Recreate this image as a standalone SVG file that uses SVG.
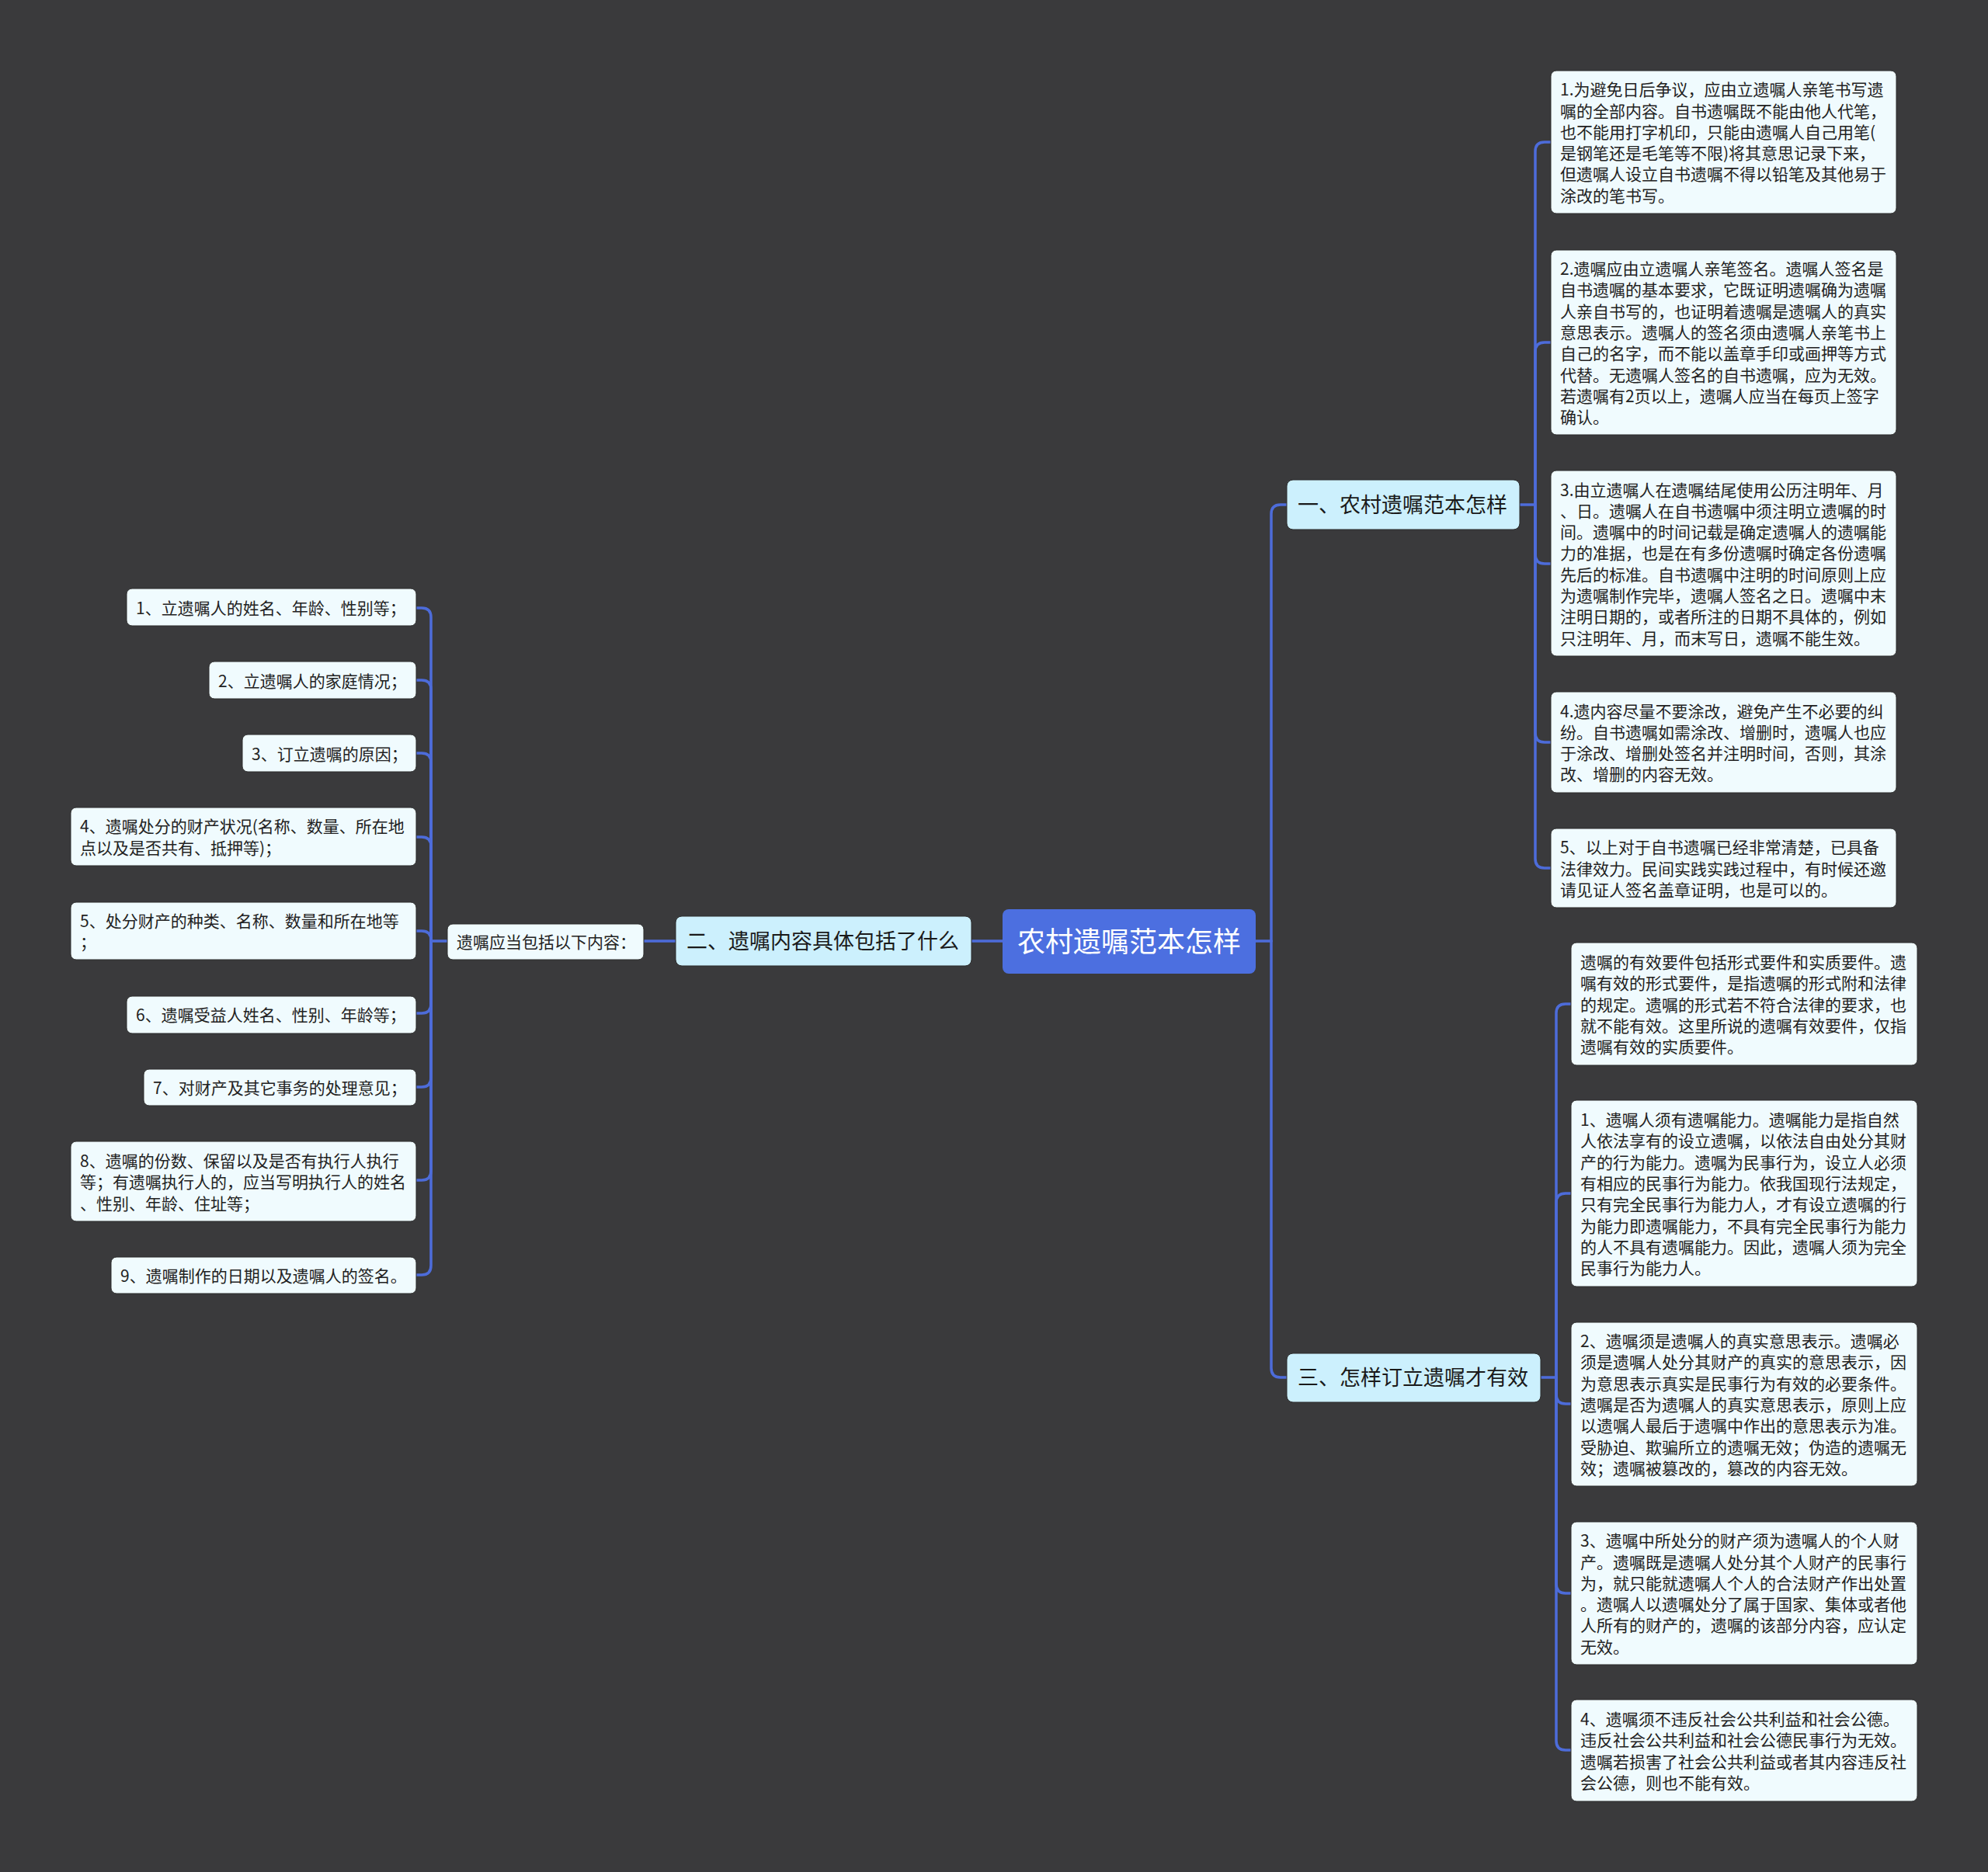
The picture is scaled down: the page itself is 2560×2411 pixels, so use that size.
<svg xmlns="http://www.w3.org/2000/svg" width="2560" height="2411" viewBox="0 0 2560 2411">
<style>
.bg{fill:#3a3a3c}
.lk{fill:none;stroke:#4d6cda;stroke-width:3.5;stroke-linecap:round}
.root rect{fill:#4c6fe0}
.root text{fill:#ffffff;font-size:36px}
.l1 rect{fill:#ccf0fd;stroke:#2a2a2a;stroke-width:1}
.l1 text{fill:#1a1a1a;font-size:27px}
.lf rect{fill:#f0fbfe;stroke:#2a2a2a;stroke-width:1}
.lf text{fill:#222222;font-size:21px}
text{font-family:"Noto Sans CJK SC","Noto Sans",sans-serif}
</style>
<rect class="bg" x="0" y="0" width="2560" height="2411"/>

<g id="connectors">
  <path class="lk" d="M1617 1212 H1637"/>
  <path class="lk" d="M1637 1212 V662 Q1637 650 1649 650 H1657"/>
  <path class="lk" d="M1637 1212 V1762 Q1637 1774 1649 1774 H1657"/>
  <path class="lk" d="M1291 1212 H1251"/>
  <path class="lk" d="M870 1212 H829"/>
  <path class="lk" d="M576 1212 H555"/>
  <path class="lk" d="M555 1212 V795 Q555 783 543 783 H536"/>
  <path class="lk" d="M555 1212 V888 Q555 876 543 876 H536"/>
  <path class="lk" d="M555 1212 V982 Q555 970 543 970 H536"/>
  <path class="lk" d="M555 1212 V1090 Q555 1078 543 1078 H536"/>
  <path class="lk" d="M555 1212 V1211 Q555 1199 543 1199 H536"/>
  <path class="lk" d="M555 1212 V1293 Q555 1305 543 1305 H536"/>
  <path class="lk" d="M555 1212 V1388 Q555 1400 543 1400 H536"/>
  <path class="lk" d="M555 1212 V1508 Q555 1520 543 1520 H536"/>
  <path class="lk" d="M555 1212 V1630 Q555 1642 543 1642 H536"/>
  <path class="lk" d="M1957 650 H1977"/>
  <path class="lk" d="M1977 650 V195 Q1977 183 1989 183 H1997"/>
  <path class="lk" d="M1977 650 V453 Q1977 441 1989 441 H1997"/>
  <path class="lk" d="M1977 650 V714 Q1977 726 1989 726 H1997"/>
  <path class="lk" d="M1977 650 V944 Q1977 956 1989 956 H1997"/>
  <path class="lk" d="M1977 650 V1106 Q1977 1118 1989 1118 H1997"/>
  <path class="lk" d="M1984 1774 H2004"/>
  <path class="lk" d="M2004 1774 V1305 Q2004 1293 2016 1293 H2023"/>
  <path class="lk" d="M2004 1774 V1549 Q2004 1537 2016 1537 H2023"/>
  <path class="lk" d="M2004 1774 V1796 Q2004 1808 2016 1808 H2023"/>
  <path class="lk" d="M2004 1774 V2040 Q2004 2052 2016 2052 H2023"/>
  <path class="lk" d="M2004 1774 V2242 Q2004 2254 2016 2254 H2023"/>
</g>

<g id="root" class="root">
  <rect x="1291" y="1171" width="326" height="83" rx="8"/>
  <text x="1454" y="1225.5" text-anchor="middle">农村遗嘱范本怎样</text>
</g>

<g id="n1" class="l1">
  <rect x="1657" y="618" width="300" height="64" rx="8"/>
  <text x="1671" y="660">一、农村遗嘱范本怎样</text>
</g>
<g id="n2" class="l1">
  <rect x="870" y="1180" width="381" height="64" rx="8"/>
  <text x="884" y="1222">二、遗嘱内容具体包括了什么</text>
</g>
<g id="n3" class="l1">
  <rect x="1657" y="1743" width="327" height="63" rx="8"/>
  <text x="1671" y="1784">三、怎样订立遗嘱才有效</text>
</g>

<g id="n2a" class="lf">
  <rect x="576" y="1190" width="253" height="46" rx="7"/>
  <text x="588" y="1220.5">遗嘱应当包括以下内容：</text>
</g>

<g id="l1" class="lf">
  <rect x="163" y="758" width="373" height="48" rx="7"/>
  <text x="175" y="790.5">1、立遗嘱人的姓名、年龄、性别等；</text>
</g>
<g id="l2" class="lf">
  <rect x="269" y="852" width="267" height="48" rx="7"/>
  <text x="281" y="884.5">2、立遗嘱人的家庭情况；</text>
</g>
<g id="l3" class="lf">
  <rect x="312" y="946" width="224" height="48" rx="7"/>
  <text x="324" y="978.5">3、订立遗嘱的原因；</text>
</g>
<g id="l4" class="lf">
  <rect x="91" y="1040" width="445" height="75" rx="7"/>
  <text x="103" y="1072.25"><tspan x="103">4、遗嘱处分的财产状况(名称、数量、所在地</tspan><tspan x="103" dy="27.5">点以及是否共有、抵押等)；</tspan></text>
</g>
<g id="l5" class="lf">
  <rect x="91" y="1162" width="445" height="74" rx="7"/>
  <text x="103" y="1193.75"><tspan x="103">5、处分财产的种类、名称、数量和所在地等</tspan><tspan x="103" dy="27.5">；</tspan></text>
</g>
<g id="l6" class="lf">
  <rect x="163" y="1283" width="373" height="48" rx="7"/>
  <text x="175" y="1315">6、遗嘱受益人姓名、性别、年龄等；</text>
</g>
<g id="l7" class="lf">
  <rect x="185" y="1377" width="351" height="47" rx="7"/>
  <text x="197" y="1408.5">7、对财产及其它事务的处理意见；</text>
</g>
<g id="l8" class="lf">
  <rect x="91" y="1470" width="445" height="103" rx="7"/>
  <text x="103" y="1502.5"><tspan x="103">8、遗嘱的份数、保留以及是否有执行人执行</tspan><tspan x="103" dy="27.5">等；有遗嘱执行人的，应当写明执行人的姓名</tspan><tspan x="103" dy="27.5">、性别、年龄、住址等；</tspan></text>
</g>
<g id="l9" class="lf">
  <rect x="143" y="1619" width="393" height="47" rx="7"/>
  <text x="155" y="1650.5">9、遗嘱制作的日期以及遗嘱人的签名。</text>
</g>

<g id="rA" class="lf">
  <rect x="1997" y="91" width="445" height="184" rx="7"/>
  <text x="2009" y="123.25"><tspan x="2009">1.为避免日后争议，应由立遗嘱人亲笔书写遗</tspan><tspan x="2009" dy="27.3">嘱的全部内容。自书遗嘱既不能由他人代笔，</tspan><tspan x="2009" dy="27.3">也不能用打字机印，只能由遗嘱人自己用笔(</tspan><tspan x="2009" dy="27.3">是钢笔还是毛笔等不限)将其意思记录下来，</tspan><tspan x="2009" dy="27.3">但遗嘱人设立自书遗嘱不得以铅笔及其他易于</tspan><tspan x="2009" dy="27.3">涂改的笔书写。</tspan></text>
</g>
<g id="rB" class="lf">
  <rect x="1997" y="322" width="445" height="238" rx="7"/>
  <text x="2009" y="354"><tspan x="2009">2.遗嘱应由立遗嘱人亲笔签名。遗嘱人签名是</tspan><tspan x="2009" dy="27.3">自书遗嘱的基本要求，它既证明遗嘱确为遗嘱</tspan><tspan x="2009" dy="27.3">人亲自书写的，也证明着遗嘱是遗嘱人的真实</tspan><tspan x="2009" dy="27.3">意思表示。遗嘱人的签名须由遗嘱人亲笔书上</tspan><tspan x="2009" dy="27.3">自己的名字，而不能以盖章手印或画押等方式</tspan><tspan x="2009" dy="27.3">代替。无遗嘱人签名的自书遗嘱，应为无效。</tspan><tspan x="2009" dy="27.3">若遗嘱有2页以上，遗嘱人应当在每页上签字</tspan><tspan x="2009" dy="27.3">确认。</tspan></text>
</g>
<g id="rC" class="lf">
  <rect x="1997" y="606" width="445" height="239" rx="7"/>
  <text x="2009" y="638.5"><tspan x="2009">3.由立遗嘱人在遗嘱结尾使用公历注明年、月</tspan><tspan x="2009" dy="27.3">、日。遗嘱人在自书遗嘱中须注明立遗嘱的时</tspan><tspan x="2009" dy="27.3">间。遗嘱中的时间记载是确定遗嘱人的遗嘱能</tspan><tspan x="2009" dy="27.3">力的准据，也是在有多份遗嘱时确定各份遗嘱</tspan><tspan x="2009" dy="27.3">先后的标准。自书遗嘱中注明的时间原则上应</tspan><tspan x="2009" dy="27.3">为遗嘱制作完毕，遗嘱人签名之日。遗嘱中末</tspan><tspan x="2009" dy="27.3">注明日期的，或者所注的日期不具体的，例如</tspan><tspan x="2009" dy="27.3">只注明年、月，而末写日，遗嘱不能生效。</tspan></text>
</g>
<g id="rD" class="lf">
  <rect x="1997" y="891" width="445" height="130" rx="7"/>
  <text x="2009" y="923.5"><tspan x="2009">4.遗内容尽量不要涂改，避免产生不必要的纠</tspan><tspan x="2009" dy="27.3">纷。自书遗嘱如需涂改、增删时，遗嘱人也应</tspan><tspan x="2009" dy="27.3">于涂改、增删处签名并注明时间，否则，其涂</tspan><tspan x="2009" dy="27.3">改、增删的内容无效。</tspan></text>
</g>
<g id="rE" class="lf">
  <rect x="1997" y="1067" width="445" height="102" rx="7"/>
  <text x="2009" y="1099.2"><tspan x="2009">5、以上对于自书遗嘱已经非常清楚，已具备</tspan><tspan x="2009" dy="27.3">法律效力。民间实践实践过程中，有时候还邀</tspan><tspan x="2009" dy="27.3">请见证人签名盖章证明，也是可以的。</tspan></text>
</g>

<g id="rF" class="lf">
  <rect x="2023" y="1214" width="446" height="158" rx="7"/>
  <text x="2035" y="1246.9"><tspan x="2035">遗嘱的有效要件包括形式要件和实质要件。遗</tspan><tspan x="2035" dy="27.3">嘱有效的形式要件，是指遗嘱的形式附和法律</tspan><tspan x="2035" dy="27.3">的规定。遗嘱的形式若不符合法律的要求，也</tspan><tspan x="2035" dy="27.3">就不能有效。这里所说的遗嘱有效要件，仅指</tspan><tspan x="2035" dy="27.3">遗嘱有效的实质要件。</tspan></text>
</g>
<g id="rG" class="lf">
  <rect x="2023" y="1417" width="446" height="240" rx="7"/>
  <text x="2035" y="1450"><tspan x="2035">1、遗嘱人须有遗嘱能力。遗嘱能力是指自然</tspan><tspan x="2035" dy="27.3">人依法享有的设立遗嘱，以依法自由处分其财</tspan><tspan x="2035" dy="27.3">产的行为能力。遗嘱为民事行为，设立人必须</tspan><tspan x="2035" dy="27.3">有相应的民事行为能力。依我国现行法规定，</tspan><tspan x="2035" dy="27.3">只有完全民事行为能力人，才有设立遗嘱的行</tspan><tspan x="2035" dy="27.3">为能力即遗嘱能力，不具有完全民事行为能力</tspan><tspan x="2035" dy="27.3">的人不具有遗嘱能力。因此，遗嘱人须为完全</tspan><tspan x="2035" dy="27.3">民事行为能力人。</tspan></text>
</g>
<g id="rH" class="lf">
  <rect x="2023" y="1703" width="446" height="211" rx="7"/>
  <text x="2035" y="1735.1"><tspan x="2035">2、遗嘱须是遗嘱人的真实意思表示。遗嘱必</tspan><tspan x="2035" dy="27.3">须是遗嘱人处分其财产的真实的意思表示，因</tspan><tspan x="2035" dy="27.3">为意思表示真实是民事行为有效的必要条件。</tspan><tspan x="2035" dy="27.3">遗嘱是否为遗嘱人的真实意思表示，原则上应</tspan><tspan x="2035" dy="27.3">以遗嘱人最后于遗嘱中作出的意思表示为准。</tspan><tspan x="2035" dy="27.3">受胁迫、欺骗所立的遗嘱无效；伪造的遗嘱无</tspan><tspan x="2035" dy="27.3">效；遗嘱被篡改的，篡改的内容无效。</tspan></text>
</g>
<g id="rI" class="lf">
  <rect x="2023" y="1960" width="446" height="184" rx="7"/>
  <text x="2035" y="1992.25"><tspan x="2035">3、遗嘱中所处分的财产须为遗嘱人的个人财</tspan><tspan x="2035" dy="27.3">产。遗嘱既是遗嘱人处分其个人财产的民事行</tspan><tspan x="2035" dy="27.3">为，就只能就遗嘱人个人的合法财产作出处置</tspan><tspan x="2035" dy="27.3">。遗嘱人以遗嘱处分了属于国家、集体或者他</tspan><tspan x="2035" dy="27.3">人所有的财产的，遗嘱的该部分内容，应认定</tspan><tspan x="2035" dy="27.3">无效。</tspan></text>
</g>
<g id="rJ" class="lf">
  <rect x="2023" y="2189" width="446" height="131" rx="7"/>
  <text x="2035" y="2222"><tspan x="2035">4、遗嘱须不违反社会公共利益和社会公德。</tspan><tspan x="2035" dy="27.3">违反社会公共利益和社会公德民事行为无效。</tspan><tspan x="2035" dy="27.3">遗嘱若损害了社会公共利益或者其内容违反社</tspan><tspan x="2035" dy="27.3">会公德，则也不能有效。</tspan></text>
</g>
</svg>
